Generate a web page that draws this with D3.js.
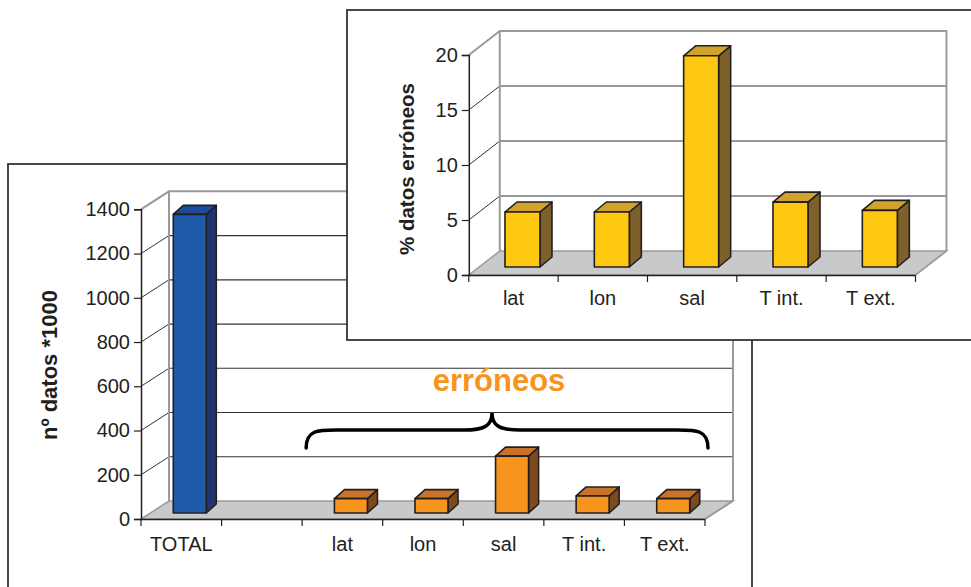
<!DOCTYPE html>
<html>
<head>
<meta charset="utf-8">
<script src="https://cdn.jsdelivr.net/npm/d3@7"></script>
<style>
  html, body { margin: 0; padding: 0; background: #fff; }
  svg { display: block; font-family: "Liberation Sans", Arial, sans-serif; }
</style>
</head>
<body>
<svg id="chart" width="971" height="587"></svg>
<script>
// Total records and erroneous records per variable (thousands)
const mainCategories = ["TOTAL", " ", "lat", "lon", "sal", "T int.", "T ext."];
const mainValues = [1350, null, 65, 65, 257, 77, 65];
const mainTicks = [0, 200, 400, 600, 800, 1000, 1200, 1400];

// Share of erroneous records per variable (%)
const insetCategories = ["lat", "lon", "sal", "T int.", "T ext."];
const insetValues = [5.0, 5.0, 19.2, 5.9, 5.15];
const insetTicks = [0, 5, 10, 15, 20];

const svg = d3.select("#chart");
const INK = "#231f20";
const WALL = "#9a9a9a";
const FLOOR = "#c8c9cb";

// Draws one pseudo-3D column chart (side wall, back wall, floor, boxes, axes)
function column3D(g, cfg) {
  const x = d3.scaleBand().domain(cfg.categories).range(cfg.xRange);
  const y = d3.scaleLinear().domain(cfg.yDomain).range(cfg.yRange);
  const [dx, dy] = cfg.depth;
  const x0 = cfg.xRange[0], x1 = cfg.xRange[1];
  const yb = y(0), yt = y(cfg.yDomain[1]);

  // floor
  g.append("path")
    .attr("d", `M${x0},${yb}L${x1},${yb}L${x1 + dx},${yb + dy}L${x0 + dx},${yb + dy}Z`)
    .attr("fill", FLOOR).attr("stroke", WALL).attr("stroke-width", 1.5);

  // gridlines on the back wall and their diagonals on the side wall
  const inner = cfg.ticks.filter(t => t > 0 && t < cfg.yDomain[1]);
  inner.forEach(t => {
    g.append("line").attr("x1", x0 + dx).attr("x2", x1 + dx)
      .attr("y1", y(t) + dy).attr("y2", y(t) + dy)
      .attr("stroke", "#333").attr("stroke-width", 1.2);
    g.append("line").attr("x1", x0).attr("x2", x0 + dx)
      .attr("y1", y(t)).attr("y2", y(t) + dy)
      .attr("stroke", "#333").attr("stroke-width", 1);
  });

  // back wall outline
  g.append("path")
    .attr("d", `M${x0},${yt}L${x0 + dx},${yt + dy}L${x1 + dx},${yt + dy}L${x1 + dx},${yb + dy}`)
    .attr("fill", "none").attr("stroke", WALL).attr("stroke-width", 2);
  g.append("line").attr("x1", x0 + dx).attr("x2", x0 + dx)
    .attr("y1", yt + dy).attr("y2", yb + dy)
    .attr("stroke", WALL).attr("stroke-width", 2);

  // boxes
  const [bdx, bdy] = cfg.boxDepth;
  const bw = cfg.barWidth;
  cfg.values.forEach((v, i) => {
    if (v == null) return;
    const c = cfg.categories[i];
    const fx = x(c) + (x.bandwidth() - bw) / 2 + cfg.shift[0];
    const fb = y(0) + cfg.shift[1];
    const ft = y(v) + cfg.shift[1];
    const col = cfg.colors(i);
    const b = g.append("g").attr("stroke", INK).attr("stroke-width", 1.6)
      .attr("stroke-linejoin", "round");
    b.append("path")
      .attr("d", `M${fx + bw},${ft}L${fx + bw + bdx},${ft + bdy}L${fx + bw + bdx},${fb + bdy}L${fx + bw},${fb}Z`)
      .attr("fill", col.side);
    b.append("path")
      .attr("d", `M${fx},${ft}L${fx + bdx},${ft + bdy}L${fx + bw + bdx},${ft + bdy}L${fx + bw},${ft}Z`)
      .attr("fill", col.top);
    b.append("rect").attr("x", fx).attr("y", ft).attr("width", bw).attr("height", fb - ft)
      .attr("fill", col.front);
  });

  // value axis
  const ya = g.append("g").attr("transform", `translate(${x0},0)`)
    .call(d3.axisLeft(y).tickValues(cfg.ticks).tickSize(7).tickPadding(4).tickFormat(d3.format("d")));
  ya.select(".domain").attr("stroke", INK).attr("stroke-width", 1.5);
  ya.selectAll(".tick line").attr("stroke", INK).attr("stroke-width", 1.2);
  ya.selectAll(".tick text").attr("fill", INK).attr("font-size", cfg.fontSize)
    .attr("font-family", "Liberation Sans, Arial, sans-serif");

  // category axis
  const xa = g.append("g").attr("transform", `translate(0,${yb})`)
    .call(d3.axisBottom(x).tickSize(0).tickPadding(cfg.labelPad));
  xa.select(".domain").attr("stroke", INK).attr("stroke-width", 1.5);
  xa.selectAll(".tick text").attr("fill", INK).attr("font-size", cfg.fontSize)
    .attr("font-family", "Liberation Sans, Arial, sans-serif");
  // tick marks between categories
  const bounds = cfg.categories.map(c => x(c)).concat([x1]);
  xa.selectAll("line.sep").data(bounds).join("line").attr("class", "sep")
    .attr("x1", d => d).attr("x2", d => d).attr("y1", 0).attr("y2", 7)
    .attr("stroke", INK).attr("stroke-width", 1.2);

  // side of floor towards the right
  g.append("line").attr("x1", x1).attr("x2", x1 + dx).attr("y1", yb).attr("y2", yb + dy)
    .attr("stroke", WALL).attr("stroke-width", 1.5);

  // rotated axis title
  g.append("text")
    .attr("transform", `translate(${cfg.titlePos[0]},${cfg.titlePos[1]}) rotate(-90)`)
    .attr("text-anchor", "middle").attr("dominant-baseline", "central")
    .attr("font-weight", "bold").attr("font-size", cfg.titleSize).attr("fill", INK)
    .text(cfg.title);

  return { x, y };
}

// ---- main chart: total vs erroneous counts ----
const mainG = svg.append("g");
mainG.append("rect").attr("x", 8).attr("y", 164).attr("width", 744).attr("height", 440)
  .attr("fill", "#fff").attr("stroke", "#333").attr("stroke-width", 1.8);

const blue = { front: "#1f5ba8", top: "#1b4c9c", side: "#23336f" };
const orange = { front: "#f7941d", top: "#c8732a", side: "#7d4a20" };
const main = column3D(mainG, {
  categories: mainCategories, values: mainValues, ticks: mainTicks,
  xRange: [141, 705], yDomain: [0, 1400], yRange: [519, 209.3],
  depth: [28, -18], boxDepth: [10, -9], barWidth: 33, shift: [8.5, -6],
  colors: i => i === 0 ? blue : orange,
  fontSize: "20px", labelPad: 18, title: "nº datos *1000", titleSize: "22px",
  titlePos: [49, 365]
});

// brace grouping the erroneous columns
const bL = main.x("lat") + 4, bR = main.x.range()[1] + 3, bTip = 492;
const bBase = 448, bMid = 430, bTop = 413;
mainG.append("path")
  .attr("d", `M${bL},${bBase} C${bL},${bMid} ${bL + 12},${bMid} ${bL + 30},${bMid}` +
    ` L${bTip - 28},${bMid} C${bTip - 8},${bMid} ${bTip},${bMid - 4} ${bTip},${bTop}` +
    ` C${bTip},${bMid - 4} ${bTip + 8},${bMid} ${bTip + 28},${bMid}` +
    ` L${bR - 30},${bMid} C${bR - 12},${bMid} ${bR},${bMid} ${bR},${bBase}`)
  .attr("fill", "none").attr("stroke", "#000").attr("stroke-width", 3.5).attr("stroke-linecap", "round");
mainG.append("text").attr("x", 499).attr("y", 391).attr("text-anchor", "middle")
  .attr("font-weight", "bold").attr("font-size", "31px").attr("fill", "#f7941d")
  .text("erróneos");

// ---- inset chart: percentage of erroneous records ----
const insetG = svg.append("g");
insetG.append("rect").attr("x", 347).attr("y", 10).attr("width", 640).attr("height", 330)
  .attr("fill", "#fff").attr("stroke", "#333").attr("stroke-width", 1.8);

const yellow = { front: "#fdc80f", top: "#d1a22c", side: "#7e602a" };
column3D(insetG, {
  categories: insetCategories, values: insetValues, ticks: insetTicks,
  xRange: [468.8, 915.5], yDomain: [0, 20], yRange: [275, 55],
  depth: [31, -24], boxDepth: [12, -10], barWidth: 35, shift: [9, -8],
  colors: () => yellow,
  fontSize: "20px", labelPad: 16, title: "% datos erróneos", titleSize: "20.5px",
  titlePos: [406, 169]
});
</script>
</body>
</html>
